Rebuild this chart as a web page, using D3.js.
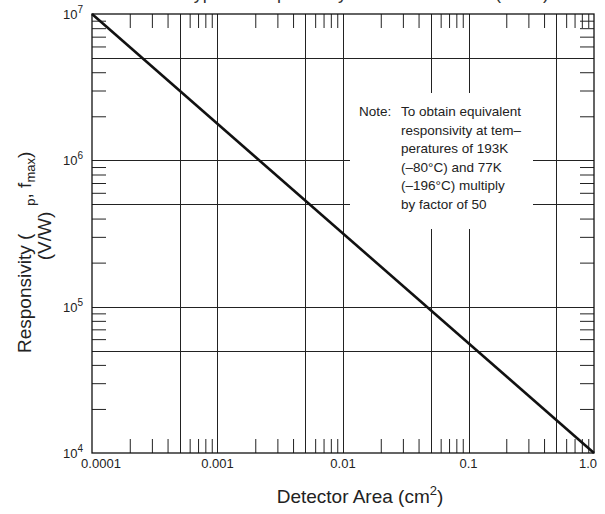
<!DOCTYPE html>
<html>
<head>
<meta charset="utf-8">
<script src="https://cdn.jsdelivr.net/npm/d3@7"></script>
<style>
  html, body { margin: 0; padding: 0; background: #fff; }
  svg { display: block; font-family: "Liberation Sans", Arial, sans-serif; }
</style>
</head>
<body>
<div id="chart"></div>
<script>
// Responsivity vs detector area, log-log
const areaPoints = [0.0001, 1.0];
const responsivityPoints = [1e7, 1e4];

const xTickValues = [0.0001, 0.001, 0.01, 0.1, 1.0];
const xTickLabels = ["0.0001", "0.001", "0.01", "0.1", "1.0"];
const yTickValues = [1e4, 1e5, 1e6, 1e7];
const yTickExponents = ["4", "5", "6", "7"];

const xGridValues = [0.0005, 0.001, 0.005, 0.01, 0.05, 0.1, 0.5];
const yGridValues = [5e4, 1e5, 5e5, 1e6, 5e6];

const noteLines = [
  "To obtain equivalent",
  "responsivity at tem\u2013",
  "peratures of 193K",
  "(\u201380\u00b0C) and 77K",
  "(\u2013196\u00b0C) multiply",
  "by factor of 50",
];

const width = 605;
const height = 514;
const margin = { top: 14, right: 11, bottom: 61, left: 92 };

const svg = d3.select("#chart").append("svg")
  .attr("width", width)
  .attr("height", height);

const x = d3.scaleLog().domain([1e-4, 1]).range([margin.left, width - margin.right]);
const y = d3.scaleLog().domain([1e4, 1e7]).range([height - margin.bottom, margin.top]);

const x0 = x.range()[0], x1 = x.range()[1];
const y0 = y.range()[0], y1 = y.range()[1];
const tickLen = 14;

// minor ticks: 2..9 within each decade, minus those that become grid lines
function minorTicks(lo, hi, skip) {
  const out = [];
  for (let d = lo; d < hi * 0.999; d *= 10) {
    for (let m = 2; m <= 9; m++) {
      const v = d * m;
      if (!skip.some((s) => Math.abs(s - v) / v < 1e-6)) out.push(v);
    }
  }
  return out;
}
const xMinor = minorTicks(1e-4, 1, xGridValues);
const yMinor = minorTicks(1e4, 1e7, yGridValues);

// title (cut by the page top in the original)
svg.append("text")
  .attr("x", 549)
  .attr("y", -1)
  .attr("text-anchor", "end")
  .attr("font-size", 18)
  .attr("fill", "#333")
  .text("Typical Responsivity vs. Detector Area (295K)");

// grid lines
const grid = svg.append("g").attr("stroke", "#222").attr("stroke-width", 1);
grid.selectAll("line.vx")
  .data(xGridValues)
  .join("line")
  .attr("class", "vx")
  .attr("x1", (d) => Math.round(x(d)) + 0.5)
  .attr("x2", (d) => Math.round(x(d)) + 0.5)
  .attr("y1", y1)
  .attr("y2", y0);
grid.selectAll("line.hy")
  .data(yGridValues)
  .join("line")
  .attr("class", "hy")
  .attr("x1", x0)
  .attr("x2", x1)
  .attr("y1", (d) => Math.round(y(d)) + 0.5)
  .attr("y2", (d) => Math.round(y(d)) + 0.5);

// minor ticks, drawn inward on all four sides
const tickG = svg.append("g").attr("class", "ticks");
tickG.append("g").attr("transform", `translate(0,${y0})`)
  .call(d3.axisBottom(x).tickValues(xMinor).tickSize(-tickLen).tickFormat(""));
tickG.append("g").attr("transform", `translate(0,${y1})`)
  .call(d3.axisTop(x).tickValues(xMinor).tickSize(-tickLen).tickFormat(""));
tickG.append("g").attr("transform", `translate(${x0},0)`)
  .call(d3.axisLeft(y).tickValues(yMinor).tickSize(-tickLen).tickFormat(""));
tickG.append("g").attr("transform", `translate(${x1},0)`)
  .call(d3.axisRight(y).tickValues(yMinor).tickSize(-tickLen).tickFormat(""));
tickG.selectAll(".domain").remove();
tickG.selectAll(".tick line").attr("stroke", "#222").attr("stroke-width", 1);

// note box hides the grid behind it
svg.append("rect")
  .attr("x", 350)
  .attr("y", 93)
  .attr("width", 183)
  .attr("height", 136)
  .attr("fill", "#fff");

const note = svg.append("g").attr("font-size", 13.5).attr("fill", "#222");
note.append("text").attr("x", 359).attr("y", 116).text("Note:");
note.selectAll("text.line")
  .data(noteLines)
  .join("text")
  .attr("class", "line")
  .attr("x", 401)
  .attr("y", (d, i) => 116 + i * 18.5)
  .text((d) => d);

// frame
svg.append("rect")
  .attr("x", x0)
  .attr("y", y1)
  .attr("width", x1 - x0)
  .attr("height", y0 - y1)
  .attr("fill", "none")
  .attr("stroke", "#111")
  .attr("stroke-width", 1.3);

// the responsivity line
const line = d3.line()
  .x((d, i) => x(areaPoints[i]))
  .y((d) => y(d));
svg.append("path")
  .datum(responsivityPoints)
  .attr("d", line)
  .attr("fill", "none")
  .attr("stroke", "#111")
  .attr("stroke-width", 2.6);

// x tick labels
const xLab = svg.append("g").attr("font-size", 13).attr("fill", "#222").attr("text-anchor", "middle");
xLab.selectAll("text")
  .data(xTickValues)
  .join("text")
  .attr("x", (d, i) => x(d) + (i === 0 ? 9 : i === xTickValues.length - 1 ? -6 : 0))
  .attr("y", y0 + 15)
  .text((d, i) => xTickLabels[i]);

// y tick labels, 10 with superscript exponent
const yLab = svg.append("g").attr("font-size", 13).attr("fill", "#222").attr("text-anchor", "end");
const yText = yLab.selectAll("text")
  .data(yTickValues)
  .join("text")
  .attr("x", x0 - 9)
  .attr("y", (d) => y(d) + 5);
yText.append("tspan").text("10");
yText.append("tspan")
  .attr("font-size", 10)
  .attr("dy", -6)
  .text((d, i) => yTickExponents[i]);

// axis titles
const xTitle = svg.append("text")
  .attr("x", 360)
  .attr("y", 503)
  .attr("text-anchor", "middle")
  .attr("font-size", 19)
  .attr("fill", "#222");
xTitle.append("tspan").text("Detector Area (cm");
xTitle.append("tspan").attr("font-size", 13).attr("dy", -8).text("2");
xTitle.append("tspan").attr("dy", 8).text(")");

const yTitle = svg.append("text")
  .attr("transform", "translate(31,353) rotate(-90)")
  .attr("text-anchor", "start")
  .attr("font-size", 19)
  .attr("fill", "#222");
yTitle.append("tspan").text("Responsivity (");
yTitle.append("tspan").attr("font-size", 13).attr("dx", 28).attr("dy", 4).text("p");
yTitle.append("tspan").attr("dy", -4).text(", f");
yTitle.append("tspan").attr("font-size", 13).attr("dy", 4).text("max");
yTitle.append("tspan").attr("dy", -4).text(")");

svg.append("text")
  .attr("transform", "translate(51,236) rotate(-90)")
  .attr("text-anchor", "middle")
  .attr("font-size", 19)
  .attr("fill", "#222")
  .text("(V/W)");
</script>
</body>
</html>
